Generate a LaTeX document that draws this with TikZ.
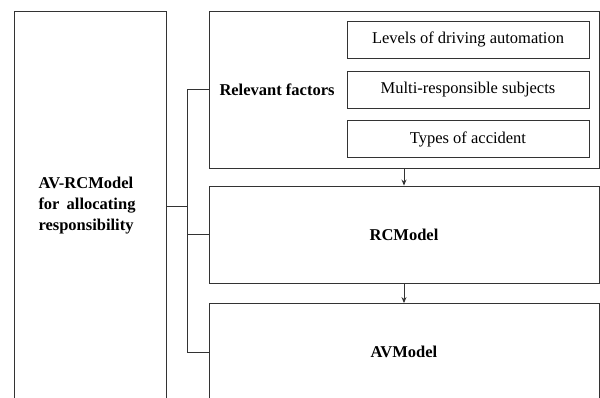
\documentclass[tikz,border=0pt]{standalone}
\usepackage{fontspec}
\setmainfont{Liberation Serif}
\usepackage{tikz}
\usetikzlibrary{arrows.meta, positioning}

\newcommand{\diagfont}{\fontsize{16.5}{21}\selectfont}

\tikzset{
	frame/.style={draw=black!80, line width=0.9pt, inner sep=0pt},
	factor/.style={frame, minimum width=242pt, minimum height=37pt},
	label/.style={font=\diagfont\bfseries, inner sep=0pt},
	link/.style={draw=black!80, line width=0.9pt},
	arr/.style={link, -{Stealth[length=6pt,width=5pt]}}
}

\begin{document}
\begin{tikzpicture}[x=1pt,y=-1pt,font=\diagfont]
	\clip (0,0) rectangle (600,397);
	\useasboundingbox (0,0) rectangle (600,397);
	\node[frame, minimum width=152pt, minimum height=390pt] (model) at (90,206) {};
	\node[label, text width=97pt, align=justify] (modeltext) at (87,206)
		{AV-RCModel\newline for allocating\linebreak responsibility};
	\node[frame, minimum width=390pt, minimum height=157pt] (factors) at (404,89.5) {};
	\node[label] (factorstext) at (277,89.5) {Relevant factors};
	\node[factor] (levels) at (468,39.5) {Levels of driving automation};
	\node[factor] (subjects) at (468,89.5) {Multi-responsible subjects};
	\node[factor] (types) at (468,139) {Types of accident};
	\node[frame, minimum width=390pt, minimum height=97pt] (rc) at (404,234.5) {};
	\node[label] (rctext) at (rc) {RCModel};
	\node[frame, minimum width=390pt, minimum height=97pt] (av) at (404,352) {};
	\node[label] (avtext) at (av) {AVModel};
	\coordinate (hub) at (187,206);
	\path[link]
		(model.east) -- (hub)
		(hub) |- (factors.west)
		(hub) |- (rc.west)
		(hub) |- (av.west);
	\draw[arr] (factors.south) -- (rc.north);
	\draw[arr] (rc.south) -- (av.north);
\end{tikzpicture}
\end{document}
